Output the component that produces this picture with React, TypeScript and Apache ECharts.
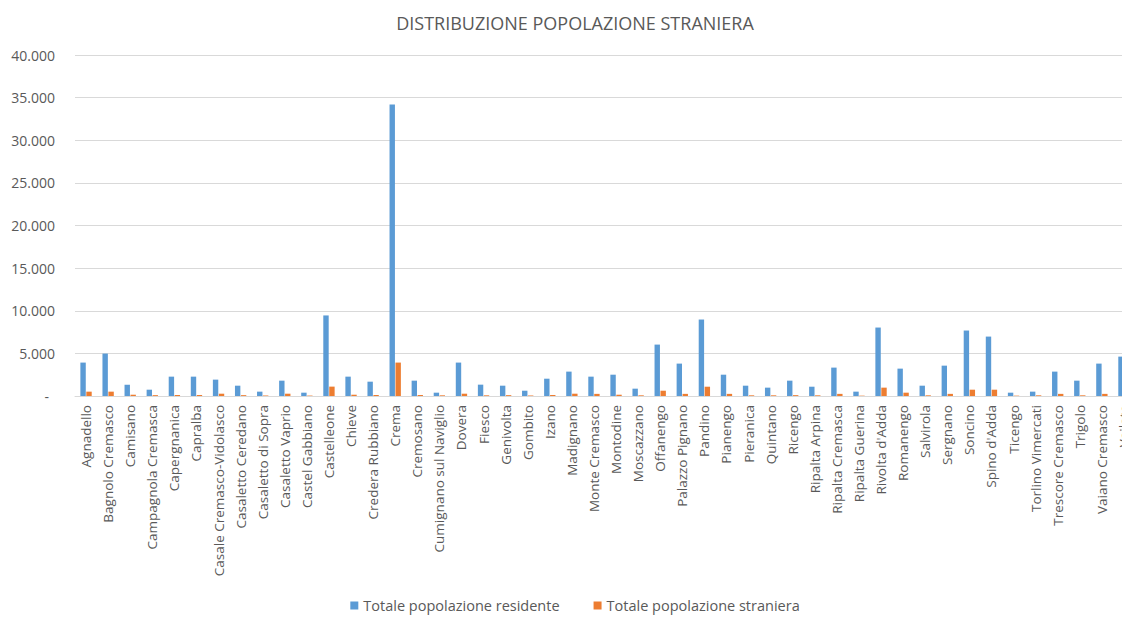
import React, { useEffect, useRef } from "react";
import * as echarts from "echarts";

const categories = [
  "Agnadello", "Bagnolo Cremasco", "Camisano", "Campagnola Cremasca", "Capergnanica",
  "Capralba", "Casale Cremasco-Vidolasco", "Casaletto Ceredano", "Casaletto di Sopra",
  "Casaletto Vaprio", "Castel Gabbiano", "Castelleone", "Chieve", "Credera Rubbiano",
  "Crema", "Cremosano", "Cumignano sul Naviglio", "Dovera", "Fiesco", "Genivolta",
  "Gombito", "Izano", "Madignano", "Monte Cremasco", "Montodine", "Moscazzano",
  "Offanengo", "Palazzo Pignano", "Pandino", "Pianengo", "Pieranica", "Quintano",
  "Ricengo", "Ripalta Arpina", "Ripalta Cremasca", "Ripalta Guerina", "Rivolta d'Adda",
  "Romanengo", "Salvirola", "Sergnano", "Soncino", "Spino d'Adda", "Ticengo",
  "Torlino Vimercati", "Trescore Cremasco", "Trigolo", "Vaiano Cremasco", "Vailate",
];

const residenti = [
  3920, 4975, 1330, 740, 2270, 2270, 1920, 1210, 510, 1800, 390, 9450, 2270, 1680,
  34200, 1800, 390, 3920, 1330, 1210, 620, 2030, 2860, 2270, 2500, 860,
  6030, 3800, 8970, 2500, 1210, 980, 1800, 1090, 3330, 510, 8030,
  3210, 1210, 3560, 7680, 6970, 390, 510, 2860, 1800, 3800, 4620,
];

const stranieri = [
  510, 510, 150, 100, 120, 120, 270, 100, 60, 270, 50, 1100, 150, 120,
  3920, 120, 80, 270, 80, 100, 60, 120, 270, 250, 150, 80,
  620, 250, 1090, 250, 80, 80, 100, 80, 250, 40, 980,
  390, 80, 250, 740, 740, 40, 80, 250, 80, 250, 300,
];

const seriesNames = ["Totale popolazione residente", "Totale popolazione straniera"];
const titleText = "DISTRIBUZIONE POPOLAZIONE STRANIERA";

const FONT = "'Open Sans', 'Noto Sans', sans-serif";
const TEXT = "#595959";

function fmt(v: number): string {
  if (v === 0) return "{z|-}";
  return String(v).replace(/\B(?=(\d{3})+(?!\d))/g, ".");
}

export default function App() {
  const ref = useRef<HTMLDivElement>(null);
  useEffect(() => {
    if (!ref.current) return;
    const chart = echarts.init(ref.current, undefined, { renderer: "svg" });
    chart.setOption({
      animation: false,
      backgroundColor: "#ffffff",
      title: {
        text: titleText,
        left: "center",
        top: 9,
        textStyle: { fontFamily: FONT, fontSize: 18, fontWeight: "normal", color: TEXT },
      },
      legend: {
        bottom: 3,
        left: "center",
        itemWidth: 8,
        itemHeight: 8,
        itemGap: 34,
        icon: "rect",
        textStyle: { fontFamily: FONT, fontSize: 14.5, color: TEXT },
        data: seriesNames,
      },
      grid: { left: 75, right: 15, top: 55, bottom: 225, containLabel: false },
      xAxis: {
        type: "category",
        data: categories,
        axisLine: { lineStyle: { color: "#d9d9d9" } },
        axisTick: { show: false },
        axisLabel: {
          rotate: 90,
          interval: 0,
          margin: 9,
          fontFamily: FONT,
          fontSize: 13.5,
          color: TEXT,
        },
      },
      yAxis: {
        type: "value",
        min: 0,
        max: 40000,
        interval: 5000,
        axisLine: { show: false },
        axisTick: { show: false },
        splitLine: { lineStyle: { color: "#d9d9d9" } },
        axisLabel: {
          margin: 20,
          fontFamily: FONT,
          fontSize: 14,
          color: TEXT,
          formatter: fmt,
          rich: { z: { padding: [0, 6, 0, 0], fontFamily: FONT, fontSize: 14, color: TEXT } },
        },
      },
      series: [
        {
          name: seriesNames[0],
          type: "bar",
          data: residenti,
          barWidth: 5.4,
          barGap: "10%",
          itemStyle: { color: "#5B9BD5" },
        },
        {
          name: seriesNames[1],
          type: "bar",
          data: stranieri,
          barWidth: 5.4,
          barGap: "10%",
          itemStyle: { color: "#ED7D31" },
        },
      ],
    });
    return () => chart.dispose();
  }, []);
  return (
    <div style={{ position: "fixed", left: 0, top: 0, width: 1122, height: 621, overflow: "hidden", background: "#fff" }}>
      <div ref={ref} style={{ width: 1150, height: 621 }} />
    </div>
  );
}
